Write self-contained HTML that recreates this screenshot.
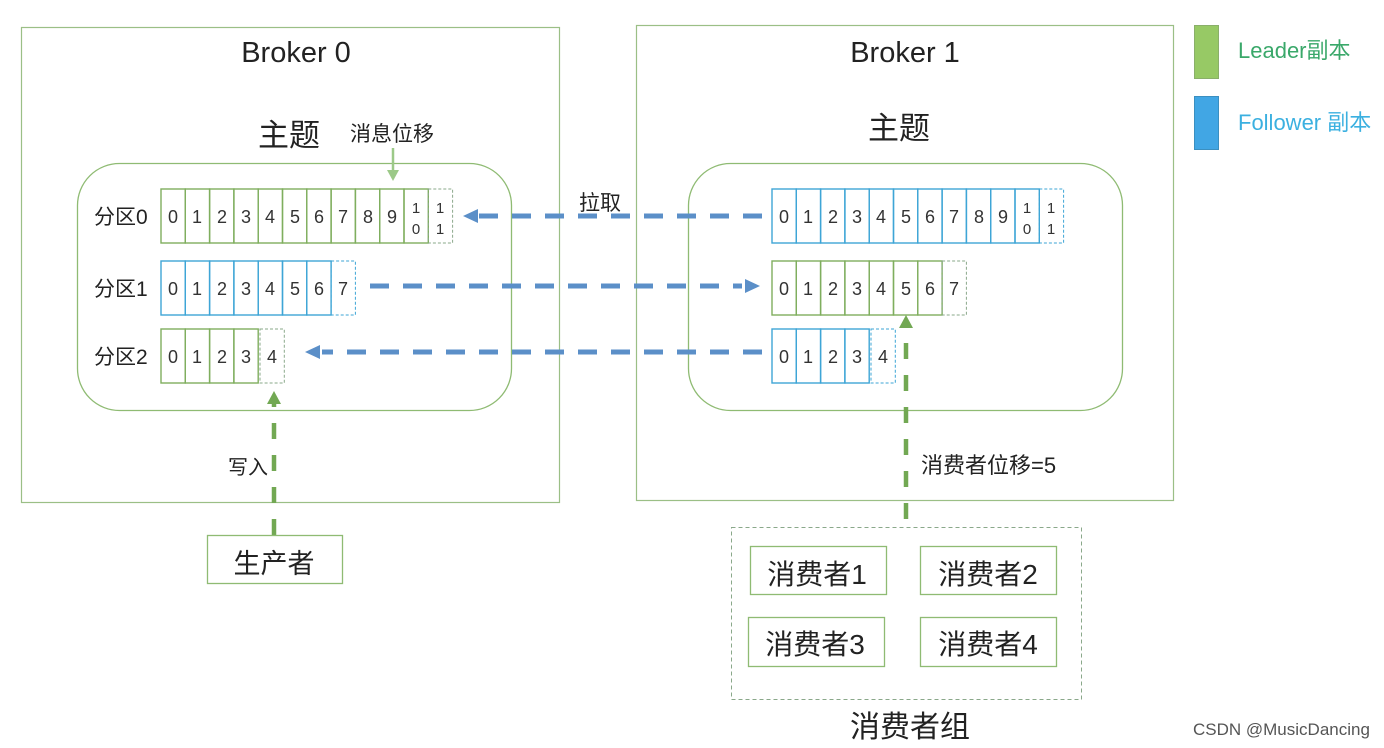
<!DOCTYPE html>
<html><head><meta charset="utf-8"><style>
html,body{margin:0;padding:0;background:#fff;}
svg{display:block;}
text{font-family:"Liberation Sans","Noto Sans CJK SC",sans-serif;fill:#222;}
.d{font-size:18px;text-anchor:middle;fill:#333;}
.s{font-size:15px;text-anchor:middle;fill:#333;}
</style></head><body>
<svg width="1384" height="748" viewBox="0 0 1384 748" xmlns="http://www.w3.org/2000/svg">
<defs>
<g id="d12">
<text class="d" x="12" y="34">0</text><text class="d" x="36" y="34">1</text><text class="d" x="61" y="34">2</text><text class="d" x="85" y="34">3</text><text class="d" x="109" y="34">4</text><text class="d" x="134" y="34">5</text><text class="d" x="158" y="34">6</text><text class="d" x="182" y="34">7</text><text class="d" x="207" y="34">8</text><text class="d" x="231" y="34">9</text>
<text class="s" x="255" y="24">1</text><text class="s" x="255" y="45">0</text><text class="s" x="279" y="24">1</text><text class="s" x="279" y="45">1</text>
</g>
</defs>
<rect x="21.5" y="27.5" width="538" height="475" fill="none" stroke="#9bbf86" stroke-width="1.2"/>
<rect x="636.5" y="25.5" width="537" height="475" fill="none" stroke="#9bbf86" stroke-width="1.2"/>
<text x="296" y="62" font-size="29" text-anchor="middle">Broker 0</text>
<text x="905" y="62" font-size="29" text-anchor="middle">Broker 1</text>
<text x="289" y="146" font-size="31" text-anchor="middle">主题</text>
<text x="899" y="139" font-size="31" text-anchor="middle">主题</text>
<text x="392" y="141" font-size="21" text-anchor="middle">消息位移</text>
<rect x="77.5" y="163.5" width="434" height="247" rx="42" fill="none" stroke="#8fbb73" stroke-width="1.3"/>
<rect x="688.5" y="163.5" width="434" height="247" rx="42" fill="none" stroke="#8fbb73" stroke-width="1.3"/>
<line x1="393" y1="148" x2="393" y2="171" stroke="#9cc988" stroke-width="2.5"/>
<polygon points="387,170 399,170 393,181" fill="#9cc988"/>
<text x="94" y="224" font-size="21">分区0</text>
<text x="94" y="296" font-size="21">分区1</text>
<text x="94" y="364" font-size="21">分区2</text>
<g transform="translate(161,189)" fill="none" stroke="#7fae5e" stroke-width="1.4">
<rect x="0" y="0" width="24.3" height="54"/><rect x="24.3" y="0" width="24.3" height="54"/><rect x="48.6" y="0" width="24.3" height="54"/><rect x="72.9" y="0" width="24.3" height="54"/><rect x="97.2" y="0" width="24.3" height="54"/><rect x="121.5" y="0" width="24.3" height="54"/><rect x="145.8" y="0" width="24.3" height="54"/><rect x="170.1" y="0" width="24.3" height="54"/><rect x="194.4" y="0" width="24.3" height="54"/><rect x="218.7" y="0" width="24.3" height="54"/><rect x="243" y="0" width="24.3" height="54"/>
<rect x="267.3" y="0" width="24.3" height="54" stroke="#8aa88a" stroke-dasharray="3,2" stroke-width="1"/>
<use href="#d12" stroke="none"/>
</g>
<g transform="translate(161,261)" fill="none" stroke="#3ea5d6" stroke-width="1.4">
<rect x="0" y="0" width="24.3" height="54"/><rect x="24.3" y="0" width="24.3" height="54"/><rect x="48.6" y="0" width="24.3" height="54"/><rect x="72.9" y="0" width="24.3" height="54"/><rect x="97.2" y="0" width="24.3" height="54"/><rect x="121.5" y="0" width="24.3" height="54"/><rect x="145.8" y="0" width="24.3" height="54"/>
<rect x="170.1" y="0" width="24.3" height="54" stroke-dasharray="3,2" stroke-width="1"/>
<g stroke="none"><text class="d" x="12" y="34">0</text><text class="d" x="36" y="34">1</text><text class="d" x="61" y="34">2</text><text class="d" x="85" y="34">3</text><text class="d" x="109" y="34">4</text><text class="d" x="134" y="34">5</text><text class="d" x="158" y="34">6</text><text class="d" x="182" y="34">7</text></g>
</g>
<g transform="translate(161,329)" fill="none" stroke="#7fae5e" stroke-width="1.4">
<rect x="0" y="0" width="24.3" height="54"/><rect x="24.3" y="0" width="24.3" height="54"/><rect x="48.6" y="0" width="24.3" height="54"/><rect x="72.9" y="0" width="24.3" height="54"/>
<rect x="99" y="0" width="24.3" height="54" stroke="#8aa88a" stroke-dasharray="3,2" stroke-width="1"/>
<g stroke="none"><text class="d" x="12" y="34">0</text><text class="d" x="36" y="34">1</text><text class="d" x="61" y="34">2</text><text class="d" x="85" y="34">3</text><text class="d" x="111" y="34">4</text></g>
</g>
<g transform="translate(772,189)" fill="none" stroke="#3ea5d6" stroke-width="1.4">
<rect x="0" y="0" width="24.3" height="54"/><rect x="24.3" y="0" width="24.3" height="54"/><rect x="48.6" y="0" width="24.3" height="54"/><rect x="72.9" y="0" width="24.3" height="54"/><rect x="97.2" y="0" width="24.3" height="54"/><rect x="121.5" y="0" width="24.3" height="54"/><rect x="145.8" y="0" width="24.3" height="54"/><rect x="170.1" y="0" width="24.3" height="54"/><rect x="194.4" y="0" width="24.3" height="54"/><rect x="218.7" y="0" width="24.3" height="54"/><rect x="243" y="0" width="24.3" height="54"/>
<rect x="267.3" y="0" width="24.3" height="54" stroke-dasharray="3,2" stroke-width="1"/>
<use href="#d12" stroke="none"/>
</g>
<g transform="translate(772,261)" fill="none" stroke="#7fae5e" stroke-width="1.4">
<rect x="0" y="0" width="24.3" height="54"/><rect x="24.3" y="0" width="24.3" height="54"/><rect x="48.6" y="0" width="24.3" height="54"/><rect x="72.9" y="0" width="24.3" height="54"/><rect x="97.2" y="0" width="24.3" height="54"/><rect x="121.5" y="0" width="24.3" height="54"/><rect x="145.8" y="0" width="24.3" height="54"/>
<rect x="170.1" y="0" width="24.3" height="54" stroke="#8aa88a" stroke-dasharray="3,2" stroke-width="1"/>
<g stroke="none"><text class="d" x="12" y="34">0</text><text class="d" x="36" y="34">1</text><text class="d" x="61" y="34">2</text><text class="d" x="85" y="34">3</text><text class="d" x="109" y="34">4</text><text class="d" x="134" y="34">5</text><text class="d" x="158" y="34">6</text><text class="d" x="182" y="34">7</text></g>
</g>
<g transform="translate(772,329)" fill="none" stroke="#3ea5d6" stroke-width="1.4">
<rect x="0" y="0" width="24.3" height="54"/><rect x="24.3" y="0" width="24.3" height="54"/><rect x="48.6" y="0" width="24.3" height="54"/><rect x="72.9" y="0" width="24.3" height="54"/>
<rect x="99" y="0" width="24.3" height="54" stroke-dasharray="3,2" stroke-width="1"/>
<g stroke="none"><text class="d" x="12" y="34">0</text><text class="d" x="36" y="34">1</text><text class="d" x="61" y="34">2</text><text class="d" x="85" y="34">3</text><text class="d" x="111" y="34">4</text></g>
</g>
<g stroke="#5b8fc8" stroke-width="5" stroke-dasharray="19,14">
<line x1="762" y1="216" x2="478" y2="216"/>
<line x1="370" y1="286" x2="742" y2="286"/>
<line x1="762" y1="352" x2="322" y2="352"/>
</g>
<g fill="#5b8fc8">
<polygon points="463,216 478,209 478,223"/>
<polygon points="760,286 745,279 745,293"/>
<polygon points="305,352 320,345 320,359"/>
</g>
<text x="579" y="210" font-size="21">拉取</text>
<g stroke="#72a853" stroke-width="4.5" stroke-dasharray="16,16">
<line x1="274" y1="535" x2="274" y2="404"/>
<line x1="906" y1="519" x2="906" y2="328"/>
</g>
<g fill="#72a853">
<polygon points="274,391 267,404 281,404"/>
<polygon points="906,315 899,328 913,328"/>
</g>
<text x="228" y="474" font-size="20">写入</text>
<text x="921" y="473" font-size="22">消费者位移=5</text>
<rect x="207.5" y="535.5" width="135" height="48" fill="#fff" stroke="#8fbb73" stroke-width="1.3"/>
<text x="274" y="573" font-size="27" text-anchor="middle">生产者</text>
<rect x="731.5" y="527.5" width="350" height="172" fill="none" stroke="#8aa88a" stroke-width="1" stroke-dasharray="4,3"/>
<g fill="#fff" stroke="#8fbb73" stroke-width="1.3">
<rect x="750.5" y="546.5" width="136" height="48"/>
<rect x="920.5" y="546.5" width="136" height="48"/>
<rect x="748.5" y="617.5" width="136" height="49"/>
<rect x="920.5" y="617.5" width="136" height="49"/>
</g>
<g font-size="28" text-anchor="middle">
<text x="817" y="584">消费者1</text>
<text x="988" y="584">消费者2</text>
<text x="815" y="654">消费者3</text>
<text x="988" y="654">消费者4</text>
</g>
<text x="910" y="737" font-size="30" text-anchor="middle">消费者组</text>
<rect x="1194.5" y="25.5" width="24" height="53" fill="#97c965" stroke="#8aaf6a"/>
<rect x="1194.5" y="96.5" width="24" height="53" fill="#41a6e4" stroke="#3b8fc0"/>
<text x="1238" y="58" font-size="22" style="fill:#3aa86a">Leader副本</text>
<text x="1238" y="130" font-size="22" style="fill:#3bb0e0">Follower 副本</text>
<text x="1193" y="735" font-size="17" style="fill:#555">CSDN @MusicDancing</text>
</svg>
</body></html>
